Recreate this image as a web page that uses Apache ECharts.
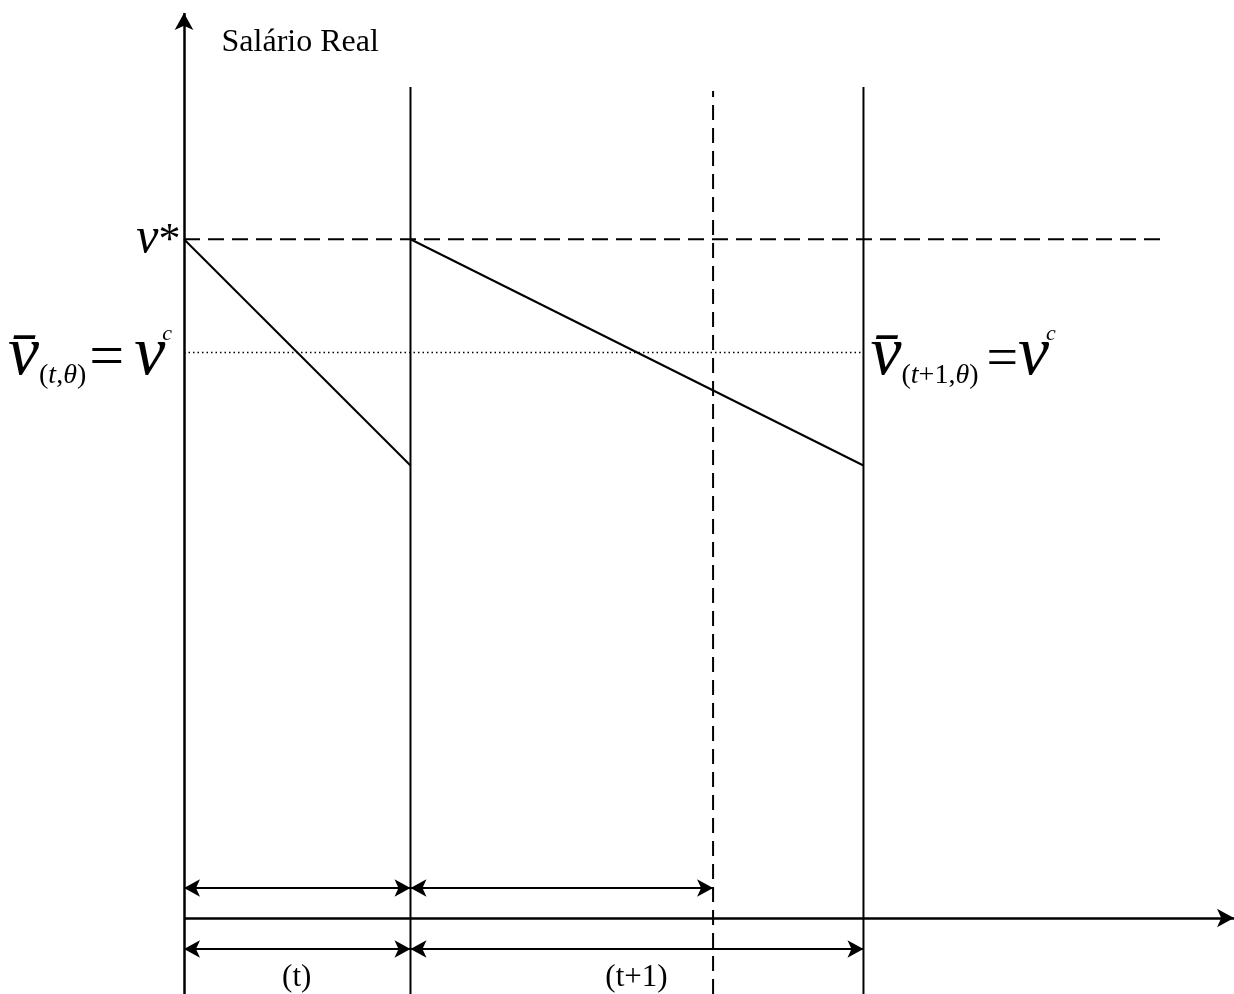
<!DOCTYPE html>
<html>
<head>
<meta charset="utf-8">
<script src="https://cdn.jsdelivr.net/npm/echarts@6/dist/echarts.min.js"></script>
<style>
  html,body{margin:0;padding:0;background:#fff;}
  #chart{width:1234px;height:994px;}
</style>
</head>
<body>
<div id="chart"></div>
<script>
'use strict';

/* ---------- data (abstract units: period t = 1, wage v* = 6) ---------- */
const periodEdges = [0, 1, 3];          // start of t, start of t+1, end of t+1
const cutoffX = 2.336;                   // dashed cut inside t+1
const vStar = 6, vC = 5, vLow = 4;
const wageT  = [[0, vStar], [1, vLow]];
const wageT1 = [[1, vStar], [3, vLow]];
const vStarEnd = 4.31;                   // where the v* dashed line stops
const boundaryTop = 7.345, cutoffTop = 7.31;
const upperArrows = [[0, 1], [1, cutoffX]];
const lowerArrows = [[0, 1], [1, 3]];
const upperArrowY = 0.265, lowerArrowY = -0.274;

const X_MIN = -0.8124, X_MAX = 4.636, Y_MIN = -0.6717, Y_MAX = 8;

const SERIF = '"Liberation Serif","Times New Roman",serif';
const INK = '#000';

/* ---------- helpers ---------- */
const seg = (data, type, width) => ({
  type: 'line', data, symbol: 'none', silent: true, animation: false,
  lineStyle: {color: INK, width: width || 2, type: type || 'solid'}, z: 2,
});
const arrowPairs = (pairs, y) => pairs.map(([a, b]) => [{coord: [a, y]}, {coord: [b, y]}]);

/* math label rich styles */
const txt = (o) => Object.assign({fontFamily: SERIF, color: INK, verticalAlign: 'bottom'}, o);
const rich = {
  v:   txt({fontStyle: 'italic', fontSize: 70, lineHeight: 70}),
  vc:  txt({fontStyle: 'italic', fontSize: 70, lineHeight: 70, width: 28}),   // tucks the superscript in
  eq:  txt({fontSize: 62, lineHeight: 62, padding: [0, 10, 0, 3]}),
  eqR: txt({fontSize: 56, lineHeight: 56, padding: [0, 0, 2, 8]}),
  sp:  txt({fontSize: 28, lineHeight: 28, padding: [0, 0, 1, 0]}),
  si:  txt({fontStyle: 'italic', fontSize: 28, lineHeight: 28, padding: [0, 0, 1, 0]}),
  sup: txt({fontStyle: 'italic', fontSize: 22, lineHeight: 22, padding: [0, 0, 46, 0]}),
  vs:  txt({fontStyle: 'italic', fontSize: 50, lineHeight: 50}),
  st:  txt({fontSize: 44, lineHeight: 50}),
};
const BAR_V = 'v\u0304';

const labels = [
  {pos: [0.168, 7.734], align: 'left', va: 'middle',
   text: 'Salário Real', font: 32},
  {pos: [-0.013, 5.78], align: 'right', va: 'bottom',
   text: '{vs|v}{st|*}'},
  {pos: [-0.775, 4.655], align: 'left', va: 'bottom',
   text: `{v|${BAR_V}}{sp|(}{si|t}{sp|,}{si|θ}{sp|)}{eq|=}{vc|v}{sup|c}`},
  {pos: [3.033, 4.655], align: 'left', va: 'bottom',
   text: `{v|${BAR_V}}{sp|(}{si|t}{sp|+1,}{si|θ}{sp|)}{eqR|=}{vc|v}{sup|c}`},
  {pos: [0.5, -0.535], align: 'center', va: 'middle', text: '(t)', font: 31},
  {pos: [2.0, -0.535], align: 'center', va: 'middle', text: '(t+1)', font: 31},
];

/* ---------- chart ---------- */
const chart = echarts.init(document.getElementById('chart'), null, {renderer: 'canvas'});

const axisBase = {
  type: 'value', splitLine: {show: false}, axisTick: {show: false}, axisLabel: {show: false},
  axisLine: {show: false},
};

const series = [
  // period boundaries and cut-off
  seg([[periodEdges[1], Y_MIN], [periodEdges[1], boundaryTop]]),
  seg([[periodEdges[2], Y_MIN], [periodEdges[2], boundaryTop]]),
  seg([[cutoffX, Y_MIN], [cutoffX, cutoffTop]], [15, 8]),
  // v* and v^c levels
  seg([[0, vStar], [vStarEnd, vStar]], [16, 8]),
  seg([[0, vC], [periodEdges[2], vC]], [1.5, 3], 1.5),
  // real wage erosion
  seg(wageT),
  seg(wageT1),
  // axes
  {
    type: 'line', data: [], silent: true, animation: false,
    markLine: {
      silent: true, animation: false, symbol: ['none', 'arrow'], symbolSize: [14, 17],
      label: {show: false}, lineStyle: {color: INK, width: 2.5, type: 'solid'},
      data: [
        [{coord: [0, Y_MIN]}, {coord: [0, Y_MAX]}],
        [{coord: [0, 0]}, {coord: [X_MAX, 0]}],
      ],
    },
  },
  // period arrows
  {
    type: 'line', data: [], silent: true, animation: false,
    markLine: {
      silent: true, animation: false, symbol: ['arrow', 'arrow'], symbolSize: [13, 16],
      label: {show: false}, lineStyle: {color: INK, width: 2, type: 'solid'},
      data: arrowPairs(upperArrows, upperArrowY).concat(arrowPairs(lowerArrows, lowerArrowY)),
    },
  },
  // text labels (opacity 1: scatter defaults to 0.8, which greys the text)
  {
    type: 'scatter', symbolSize: 1, itemStyle: {color: 'rgba(0,0,0,0)', opacity: 1},
    silent: true, animation: false,
    data: labels.map(l => ({
      value: l.pos,
      label: {
        show: true, position: [0, 0], align: l.align, verticalAlign: l.va,
        formatter: l.text, color: INK, fontFamily: SERIF, fontSize: l.font || 24, rich,
      },
    })),
    z: 5,
  },
];

chart.setOption({
  backgroundColor: '#fff',
  animation: false,
  grid: {left: 0, right: 0, top: 13, bottom: 0, containLabel: false, outerBoundsMode: 'none'},
  xAxis: Object.assign({}, axisBase, {min: X_MIN, max: X_MAX}),
  yAxis: Object.assign({}, axisBase, {min: Y_MIN, max: Y_MAX}),
  series,
});
</script>
</body>
</html>
